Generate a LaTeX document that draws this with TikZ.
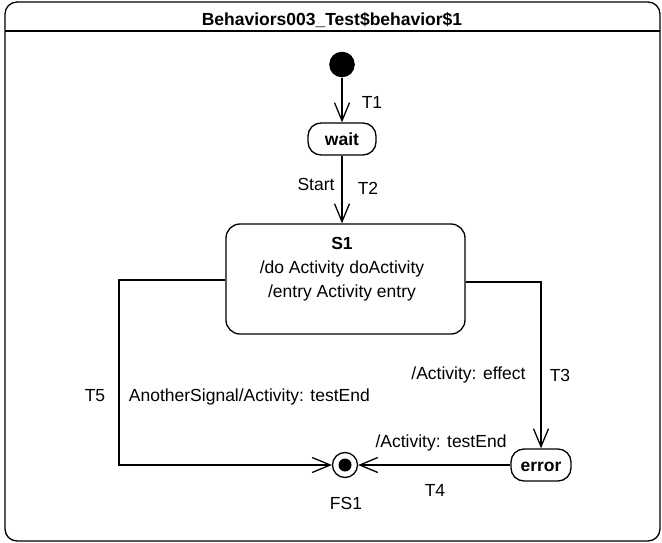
\documentclass[tikz,border=0pt]{standalone}
\usepackage{fontspec}
\setmainfont{Liberation Sans}
\usetikzlibrary{arrows.meta}
\begin{document}
\begin{tikzpicture}[x=1pt,y=-1pt,line width=1.3pt,
  txt/.style={font=\fontsize{17.5}{20}\selectfont},
  lbl/.style={txt,inner sep=0pt,text height=12.5pt,text depth=0pt},
  boldlbl/.style={lbl,font=\fontsize{17.5}{20}\selectfont\bfseries},
  state/.style={draw,line width=1.3pt,rounded corners=13pt,inner sep=0pt,text height=12.5pt,text depth=0pt,font=\fontsize{17.5}{20}\selectfont\bfseries},
  trans/.style={line width=1.3pt,-{Straight Barb[length=18pt,width=15pt,line width=1.3pt]}}]
\useasboundingbox (0,0) rectangle (662,543);
% frame
\draw[rounded corners=12pt] (5,2) rectangle (660,541);
\coordinate (hl) at (5,31);
\coordinate (hr) at (660,31);
\draw (hl) -- (hr);
\node[boldlbl] (title) at (332,19) {Behaviors003\_Test\$behavior\$1};
% states
\node[circle,fill,inner sep=0pt,minimum size=25.6pt] (init) at (342,64.5) {};
\node[state,minimum width=68pt,minimum height=32pt] (wait) at (342,139) {wait};
\node[draw,rounded corners=14pt,minimum width=239pt,minimum height=110pt] (s1) at (345.5,279) {};
\node[boldlbl] (s1name) at (342,243) {S1};
\node[lbl] (s1do) at (342,267) {/do Activity doActivity};
\node[lbl] (s1entry) at (342,291) {/entry Activity entry};
\node[state,minimum width=60pt,minimum height=32pt] (error) at (541,465) {error};
\node[circle,draw,inner sep=0pt,minimum size=25pt] (fs1) at (345,465) {};
\node[circle,fill,inner sep=0pt,minimum size=13pt] (fs1dot) at (fs1.center) {};
\node[lbl] (fs1lbl) at (346,503) {FS1};
% transitions
\coordinate (t5a) at (119,280);
\coordinate (t5b) at (119,465);
\draw[trans] (init.south) -- (wait.north);
\draw[trans] (wait.south) -- (wait.south |- s1.north);
\draw[trans] ([yshift=-3pt]s1.east) -| (error.north);
\draw[trans] ([yshift=-1pt]s1.west) -- (t5a) -- (t5b) -- (fs1.west);
\draw[trans] (error.west) -- (fs1.east);
% labels
\node[lbl] (t1) at (372,102) {T1};
\node[lbl] (start) at (316,184) {Start};
\node[lbl] (t2) at (368,188) {T2};
\node[lbl] (effect) at (468.5,373) {/Activity: effect};
\node[lbl] (t3) at (560,375) {T3};
\node[lbl] (t5) at (95,395) {T5};
\node[lbl,anchor=west] (another) at (128.3,395) {AnotherSignal/Activity: testEnd};
\node[lbl] (testend) at (441,441) {/Activity: testEnd};
\node[lbl] (t4) at (435,490) {T4};
\end{tikzpicture}
\end{document}
